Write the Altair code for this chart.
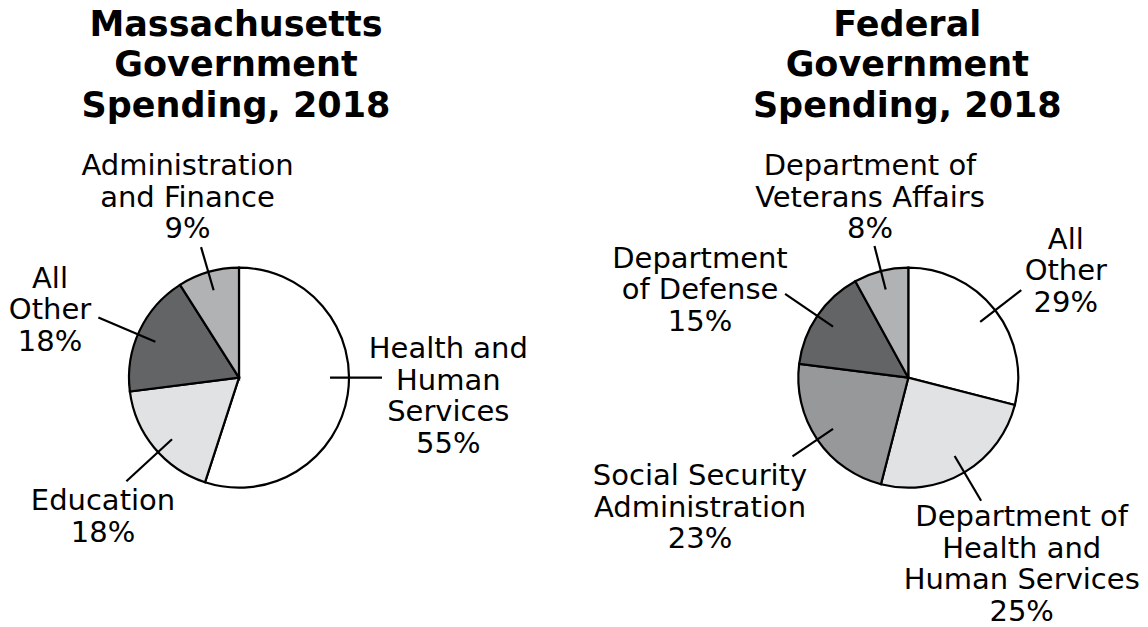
import math
import altair as alt
import pandas as pd

# ---------------- data ----------------
ma_title = "Massachusetts\nGovernment\nSpending, 2018"
ma_categories = ["Health and Human Services", "Education", "All Other", "Administration and Finance"]
ma_label_text = ["Health and\nHuman\nServices", "Education", "All\nOther", "Administration\nand Finance"]
ma_values = [55, 18, 18, 9]

fed_title = "Federal\nGovernment\nSpending, 2018"
fed_categories = ["All Other", "Department of Health and Human Services",
                  "Social Security Administration", "Department of Defense",
                  "Department of Veterans Affairs"]
fed_label_text = ["All\nOther", "Department of\nHealth and\nHuman Services",
                  "Social Security\nAdministration", "Department\nof Defense",
                  "Department of\nVeterans Affairs"]
fed_values = [29, 25, 23, 15, 8]

# ---------------- styles / layout ----------------
ma_colors = ["#ffffff", "#e1e2e3", "#636466", "#b1b2b4"]
fed_colors = ["#ffffff", "#e1e2e3", "#97989a", "#636466", "#b1b2b4"]

W, H = 1132, 619
PIE_R = 110
ma_center = (231.0, 369.7)
fed_center = (900.3, 369.7)

# leader lines: inner radius, outer radius per slice, angle tweak (deg)
LEAD_IN = 91
ma_lead_out = [143, 153, 153, 136]
ma_lead_adjust = [-9, -3, -2, 0]
fed_lead_out = [143, 143, 140, 149, 136]
fed_lead_adjust = [0, 0, 0, 0, 0]

# label anchor (center x, first baseline) offsets from pie centre
ma_label_off = [(209.3, -19.7), (-136.0, 132.3), (-189.0, -90.2), (-51.5, -202.7)]
fed_label_off = [(157.5, -129.0), (113.4, 148.3), (-208.3, 107.5), (-208.3, -110.0), (-38.3, -202.7)]

FONT = "DejaVu Sans"

all_keys = [f"ma{i}" for i in range(len(ma_values))] + [f"fed{i}" for i in range(len(fed_values))]
all_colors = ma_colors + fed_colors
color_scale = alt.Scale(domain=all_keys, range=all_colors)


def build(prefix, cats, texts, values, center, lead_out, lead_adj, label_off):
    cx, cy = center
    total = float(sum(values))
    pie_rows, line_rows, text_rows = [], [], []
    cum = 0.0
    for i, (c, t, v) in enumerate(zip(cats, texts, values)):
        key = f"{prefix}{i}"
        pie_rows.append({"key": key, "category": c, "value": v, "order": i})
        mid = (cum + v / 2.0) / total * 360.0 + lead_adj[i]
        a = math.radians(mid)
        line_rows.append({
            "key": key,
            "x": cx + LEAD_IN * math.sin(a), "y": cy - LEAD_IN * math.cos(a),
            "x2": cx + lead_out[i] * math.sin(a), "y2": cy - lead_out[i] * math.cos(a),
        })
        dx, dy = label_off[i]
        text_rows.append({"key": key, "label": f"{t}\n{v}%", "x": cx + dx, "y": cy + dy})
        cum += v
    pie_df = pd.DataFrame(pie_rows)
    line_df = pd.DataFrame(line_rows)
    text_df = pd.DataFrame(text_rows)

    pie = alt.Chart(pie_df).mark_arc(
        outerRadius=PIE_R, stroke="black", strokeWidth=2.2
    ).encode(
        theta=alt.Theta("value:Q", stack=True),
        order=alt.Order("order:Q"),
        color=alt.Color("key:N", scale=color_scale, legend=None),
        x=alt.value(cx),
        y=alt.value(cy),
    )
    lines = alt.Chart(line_df).mark_rule(color="black", strokeWidth=2.2).encode(
        x=alt.X("x:Q", scale=None, axis=None),
        y=alt.Y("y:Q", scale=None, axis=None),
        x2="x2:Q",
        y2="y2:Q",
    )
    labels = alt.Chart(text_df).mark_text(
        font=FONT, fontSize=29, lineBreak="\n", lineHeight=31.5,
        align="center", baseline="alphabetic", color="black"
    ).encode(
        x=alt.X("x:Q", scale=None, axis=None),
        y=alt.Y("y:Q", scale=None, axis=None),
        text="label:N",
    )
    return [pie, lines, labels]


layers = []
layers += build("ma", ma_categories, ma_label_text, ma_values,
                ma_center, ma_lead_out, ma_lead_adjust, ma_label_off)
layers += build("fed", fed_categories, fed_label_text, fed_values,
                fed_center, fed_lead_out, fed_lead_adjust, fed_label_off)

title_df = pd.DataFrame({
    "title": [ma_title, fed_title],
    "x": [ma_center[0] - 3, fed_center[0] - 1],
    "y": [28.0, 28.0],
})
titles = alt.Chart(title_df).mark_text(
    font=FONT, fontSize=35, fontWeight="bold", lineBreak="\n", lineHeight=40.3,
    align="center", baseline="alphabetic", color="black"
).encode(
    x=alt.X("x:Q", scale=None, axis=None),
    y=alt.Y("y:Q", scale=None, axis=None),
    text="title:N",
)
layers.append(titles)

chart = alt.layer(*layers).properties(
    width=W, height=H,
    autosize=alt.AutoSizeParams(type="none"),
    padding=0,
    background="white",
).configure_view(stroke=None)

chart.save("out.html", embed_options={"renderer": "svg", "actions": False})
